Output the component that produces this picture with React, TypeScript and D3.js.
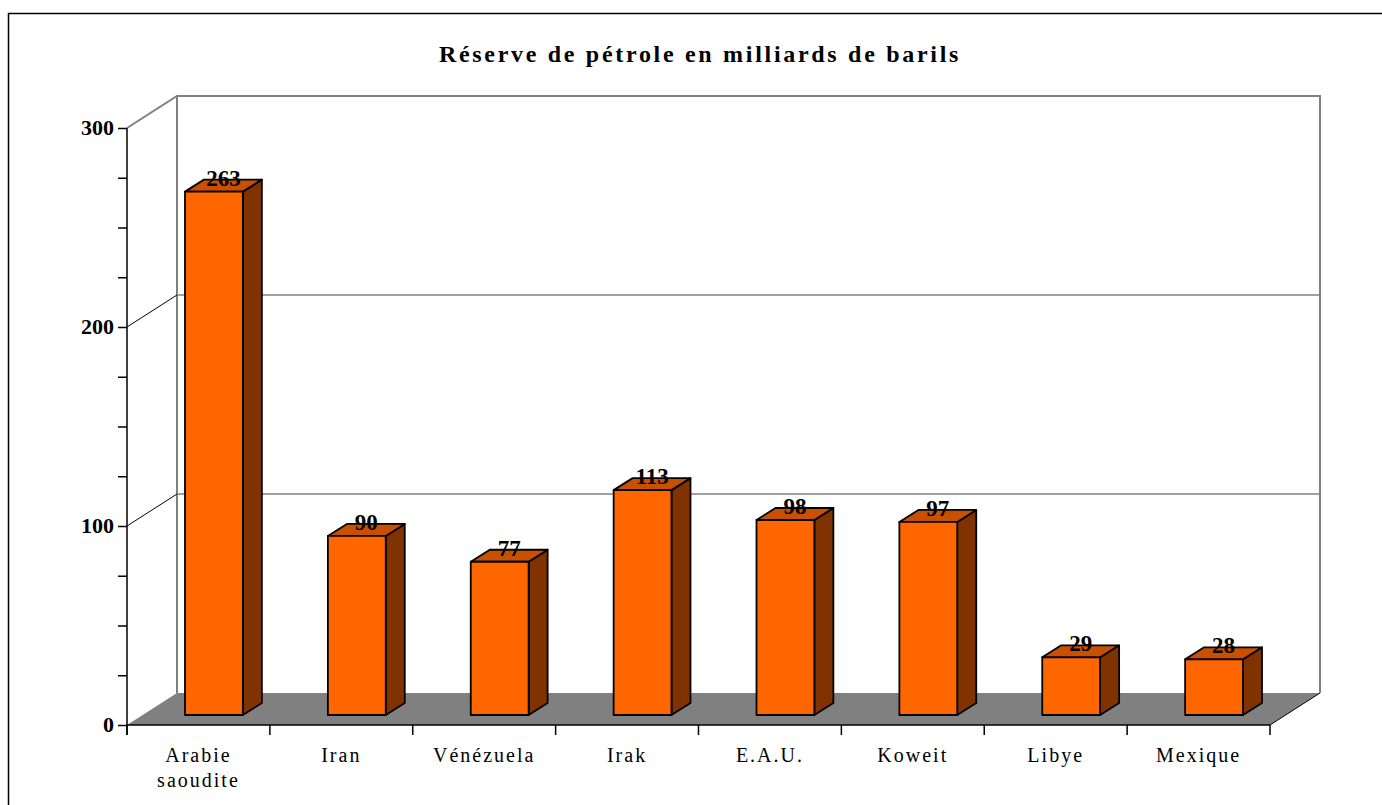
import React, { useEffect, useRef } from 'react'
import * as d3 from 'd3'

const categories = ['Arabie saoudite', 'Iran', 'Vénézuela', 'Irak', 'E.A.U.', 'Koweit', 'Libye', 'Mexique']
const reserves = [263, 90, 77, 113, 98, 97, 29, 28]
const yTicks = [0, 100, 200, 300]
const title = 'Réserve de pétrole en milliards de barils'

const W = 1382
const H = 805

const App = () => {
  const ref = useRef<SVGSVGElement>(null)

  useEffect(() => {
    const svg = d3.select(ref.current)
    svg.selectAll('*').remove()

    const left = 127
    const right = 1270
    const top = 128
    const bottom = 725
    // depth of the 3d box and of each bar
    const depthX = 50
    const depthY = -32
    const barDX = 19
    const barDY = -12
    const offX = (depthX - barDX) / 2
    const offY = (depthY - barDY) / 2

    const x = d3.scaleBand<string>().domain(categories).range([left, right]).padding(0)
    const y = d3.scaleLinear().domain([0, 300]).range([bottom, top])
    const barW = x.bandwidth() * 0.405

    const serif = '"Liberation Serif", "DejaVu Serif", serif'

    // outer frame
    svg.append('rect')
      .attr('x', 8.5).attr('y', 13.5)
      .attr('width', 1500).attr('height', 1000)
      .attr('fill', 'none').attr('stroke', '#000').attr('stroke-width', 1.5)

    svg.append('text')
      .attr('x', 700).attr('y', 62)
      .attr('text-anchor', 'middle')
      .attr('font-family', serif).attr('font-weight', 'bold')
      .attr('font-size', 24).attr('letter-spacing', 2.7)
      .text(title)

    // floor
    svg.append('path')
      .attr('d', `M${left},${bottom}L${right},${bottom}L${right + depthX},${bottom + depthY}L${left + depthX},${bottom + depthY}Z`)
      .attr('fill', '#808080')
    svg.append('line')
      .attr('x1', right).attr('y1', bottom)
      .attr('x2', right + depthX).attr('y2', bottom + depthY)
      .attr('stroke', '#000').attr('stroke-width', 1)

    // back wall
    const wall = svg.append('g').attr('stroke', '#808080').attr('fill', 'none')
    wall.append('path')
      .attr('d', `M${left},${y(300)}L${left + depthX},${y(300) + depthY}L${right + depthX},${y(300) + depthY}L${right + depthX},${bottom + depthY}`)
      .attr('stroke-width', 2)
    wall.append('line')
      .attr('x1', left + depthX).attr('y1', y(300) + depthY)
      .attr('x2', left + depthX).attr('y2', bottom + depthY)
      .attr('stroke-width', 2)
    wall.selectAll('line.grid')
      .data([100, 200])
      .join('line')
      .attr('class', 'grid')
      .attr('x1', left + depthX).attr('x2', right + depthX)
      .attr('y1', d => y(d) + depthY).attr('y2', d => y(d) + depthY)
      .attr('stroke-width', 1.5)
    svg.selectAll('line.diag')
      .data([100, 200])
      .join('line')
      .attr('class', 'diag')
      .attr('x1', left).attr('y1', d => y(d))
      .attr('x2', left + depthX).attr('y2', d => y(d) + depthY)
      .attr('stroke', '#000').attr('stroke-width', 1)

    // bars
    const bars = svg.append('g')
      .attr('stroke', '#000').attr('stroke-width', 1.8).attr('stroke-linejoin', 'round')
      .selectAll('g')
      .data(categories.map((c, i) => ({ c, v: reserves[i] })))
      .join('g')

    const bx = (d: any) => (x(d.c) as number) + (x.bandwidth() - barW) / 2 + offX
    const by0 = y(0) + offY
    const byv = (d: any) => y(d.v) + offY

    bars.append('path')
      .attr('d', d => `M${bx(d) + barW},${by0}L${bx(d) + barW + barDX},${by0 + barDY}L${bx(d) + barW + barDX},${byv(d) + barDY}L${bx(d) + barW},${byv(d)}Z`)
      .attr('fill', '#803300')
    bars.append('path')
      .attr('d', d => `M${bx(d)},${byv(d)}L${bx(d) + barDX},${byv(d) + barDY}L${bx(d) + barW + barDX},${byv(d) + barDY}L${bx(d) + barW},${byv(d)}Z`)
      .attr('fill', '#C85000')
    bars.append('rect')
      .attr('x', bx).attr('y', byv)
      .attr('width', barW).attr('height', d => by0 - byv(d))
      .attr('fill', '#FF6600')

    svg.append('g')
      .selectAll('text')
      .data(categories.map((c, i) => ({ c, v: reserves[i] })))
      .join('text')
      .attr('x', d => bx(d) + barW / 2 + barDX / 2)
      .attr('y', d => byv(d) + barDY + 6)
      .attr('text-anchor', 'middle')
      .attr('font-family', serif).attr('font-weight', 'bold').attr('font-size', 23)
      .text(d => d.v)

    // y axis
    const yAxis = svg.append('g')
      .attr('transform', `translate(${left},0)`)
      .call(d3.axisLeft(y).tickValues(d3.range(0, 301, 25)).tickSize(9).tickFormat(() => ''))
    yAxis.select('.domain').remove()
    yAxis.append('line')
      .attr('x1', 0).attr('x2', 0).attr('y1', top).attr('y2', bottom + 10)
    yAxis.selectAll('line').attr('stroke', '#000').attr('stroke-width', 1.5)

    svg.append('g')
      .selectAll('text')
      .data(yTicks)
      .join('text')
      .attr('x', left - 13).attr('y', d => y(d))
      .attr('dy', '0.33em')
      .attr('text-anchor', 'end')
      .attr('font-family', serif).attr('font-weight', 'bold').attr('font-size', 22)
      .text(d => d)

    // x axis
    const xAxis = svg.append('g')
      .attr('transform', `translate(0,${bottom})`)
    xAxis.append('line')
      .attr('x1', left).attr('x2', right)
      .attr('stroke', '#000').attr('stroke-width', 1.5)
    xAxis.selectAll('line.tick')
      .data([...categories.map(c => x(c) as number), right])
      .join('line')
      .attr('class', 'tick')
      .attr('x1', d => d).attr('x2', d => d)
      .attr('y1', 0).attr('y2', 10)
      .attr('stroke', '#000').attr('stroke-width', 1.5)

    const labels = xAxis.selectAll('text')
      .data(categories)
      .join('text')
      .attr('x', d => (x(d) as number) + x.bandwidth() / 2)
      .attr('y', 37)
      .attr('text-anchor', 'middle')
      .attr('font-family', serif).attr('font-size', 20).attr('letter-spacing', 2)
    labels.each(function (d) {
      const words = d === 'Arabie saoudite' ? ['Arabie', 'saoudite'] : [d]
      const t = d3.select(this)
      words.forEach((w, i) => {
        t.append('tspan')
          .attr('x', (x(d) as number) + x.bandwidth() / 2)
          .attr('dy', i === 0 ? 0 : 25)
          .text(w)
      })
    })
  }, [])

  return (
    <svg
      ref={ref}
      width={W}
      height={H}
      style={{ position: 'absolute', left: 0, top: 0, background: '#fff' }}
    />
  )
}

export default App
